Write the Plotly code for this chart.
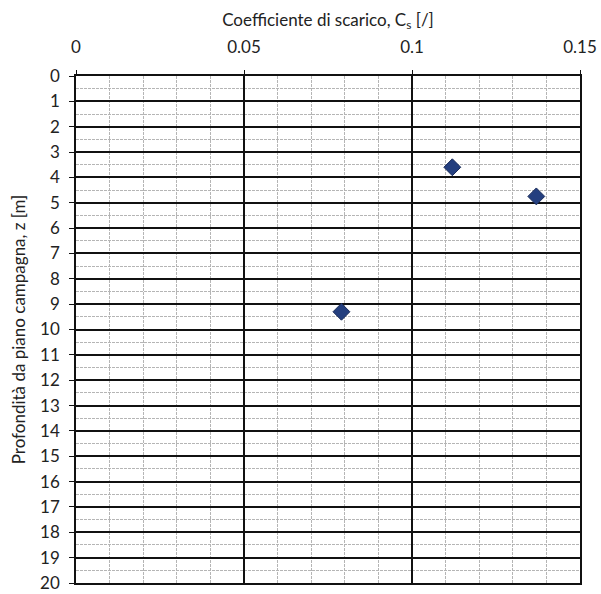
import plotly.graph_objects as go

cs_values = [0.112, 0.137, 0.079]
depths = [3.6, 4.75, 9.3]

x_title = "Coefficiente di scarico, C<sub>s</sub> [/]"
y_title = "Profondità da piano campagna, z [m]"

fig = go.Figure()
fig.add_trace(go.Scatter(
    x=cs_values, y=depths, mode="markers",
    marker=dict(symbol="diamond", size=13, color="#243f7f",
                line=dict(color="#1a2c5a", width=1)),
    showlegend=False,
))

font = dict(family="Lato, Open Sans, sans-serif", size=17, color="#222")

fig.update_layout(
    width=601, height=594,
    margin=dict(l=76, r=21, t=76, b=11),
    paper_bgcolor="white", plot_bgcolor="white",
    font=font,
)
fig.update_xaxes(
    side="top", range=[0, 0.15], dtick=0.05, tick0=0,
    showgrid=True, gridcolor="#111", gridwidth=1.5,
    minor=dict(dtick=0.01, showgrid=True, gridcolor="#b5b5b5", gridwidth=1, griddash="3px,1px"),
    showline=True, linecolor="#111", linewidth=1.5, mirror=True,
    ticks="outside", ticklen=4, tickcolor="#111",
    zeroline=False, automargin=False,
    title=dict(text=x_title, font=dict(size=17), standoff=6),
    tickfont=dict(size=17),
    ticklabelstandoff=10,
)
fig.update_yaxes(
    range=[20, 0], dtick=1, tick0=0,
    showgrid=True, gridcolor="#111", gridwidth=1.5,
    minor=dict(dtick=0.5, showgrid=True, gridcolor="#b5b5b5", gridwidth=1, griddash="3px,1px"),
    showline=True, linecolor="#111", linewidth=1.5, mirror=True,
    ticks="outside", ticklen=5, tickcolor="#111",
    zeroline=False, automargin=False,
    title=dict(text=y_title, font=dict(size=17), standoff=10),
    tickfont=dict(size=17),
    ticklabelstandoff=6,
)

fig.write_html("out.html")
